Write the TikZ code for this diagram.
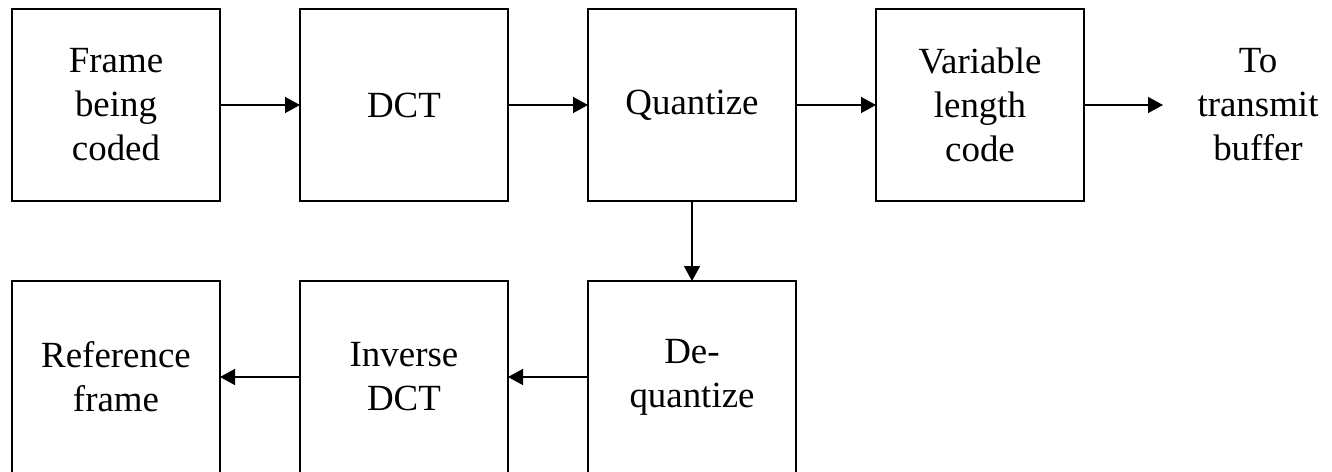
\documentclass[tikz,border=0pt]{standalone}
\usepackage{fontspec}
\setmainfont{Liberation Serif}
\usetikzlibrary{positioning,arrows.meta}

\tikzset{
  block/.style={draw,line width=0.8pt,minimum width=4.16cm,minimum height=3.84cm,align=center,inner sep=0pt,outer sep=0pt,font=\fontsize{21}{25}\selectfont},
  flow/.style={-{Triangle[length=0.3cm,width=0.32cm]},line width=0.8pt}
}

\begin{document}
\begin{tikzpicture}[node distance=1.6cm]
  \useasboundingbox (0,0) rectangle (26.64,-9.44);
  % top row
  \node[block] (frame) at (2.32,-2.10) {Frame\\being\\coded};
  \node[block,right=of frame] (dct) {DCT};
  \node[block,right=of dct] (quant) {Quantize};
  \node[block,right=of quant] (vlc) {Variable\\length\\code};
  \coordinate[right=1.58cm of vlc] (tip);
  \node[align=center,font=\fontsize{21}{25}\selectfont] (buffer) at (25.16,-2.10) {To\\transmit\\buffer};
  % bottom row
  \node[block,below=of quant] (dequant) {De-\\quantize};
  \node[block,below=of dct] (idct) {Inverse\\DCT};
  \node[block,below=of frame] (ref) {Reference\\frame};
  \draw[flow] (frame) -- (dct);
  \draw[flow] (dct) -- (quant);
  \draw[flow] (quant) -- (vlc);
  \draw[flow] (vlc) -- (tip);
  \draw[flow] (quant) -- (dequant);
  \draw[flow] (dequant) -- (idct);
  \draw[flow] (idct) -- (ref);
\end{tikzpicture}
\end{document}
